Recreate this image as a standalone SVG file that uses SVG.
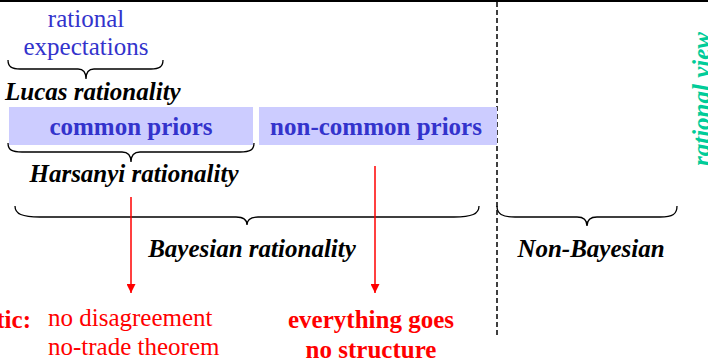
<svg xmlns="http://www.w3.org/2000/svg" width="708" height="364" viewBox="0 0 708 364">
<style>
text{font-family:"Liberation Serif","Times New Roman",serif;font-size:25px}
.bi{font-weight:bold;font-style:italic;fill:#000}
.blue{fill:#3333cc}
.bb{fill:#3333cc;font-weight:bold}
.red{fill:#ff0000}
.rb{fill:#ff0000;font-weight:bold}
.brace{fill:none;stroke:#000;stroke-width:1.3}
.box{fill:#ccccff}
.arr{stroke:#ff0000;stroke-width:1.5;fill:none}
</style>
<defs>
<marker id="ah" markerWidth="10" markerHeight="9" refX="9" refY="4.5" orient="auto" markerUnits="userSpaceOnUse">
<path d="M0,0 L9,4.5 L0,9 Z" fill="#ff0000"/>
</marker>
</defs>
<line x1="0" y1="1" x2="708" y2="1" stroke="#000" stroke-width="2"/>
<line x1="497" y1="2" x2="497" y2="335" stroke="#000" stroke-width="1.5" stroke-dasharray="5,3"/>
<g id="rational-view"><text class="bi" style="fill:#00cc99" transform="translate(710,99) rotate(-90)" text-anchor="middle">rational view</text></g>
<g id="rational-expectations">
<text class="blue" x="86" y="27" text-anchor="middle">rational</text>
<text class="blue" x="86" y="55" text-anchor="middle">expectations</text>
<path class="brace" d="M8,60 C8,67 12,69 20,69 L78,69 C83,69 86,72 86,79 C86,72 89,69 94,69 L151,69 C159,69 163,67 163,60"/>
</g>
<g id="lucas"><text class="bi" x="5" y="100">Lucas rationality</text></g>
<g id="common-priors">
<rect class="box" x="9" y="107" width="244" height="38"/>
<text class="bb" x="131" y="135" text-anchor="middle">common priors</text>
</g>
<g id="non-common-priors">
<rect class="box" x="259" y="107" width="238" height="38"/>
<text class="bb" x="376" y="135" text-anchor="middle">non-common priors</text>
</g>
<g id="harsanyi">
<path class="brace" d="M8,143 C8,150 12,152 22,152 L122,152 C128,152 131,155 131,162 C131,155 134,152 140,152 L240,152 C250,152 254,150 254,143"/>
<text class="bi" x="134" y="182" text-anchor="middle">Harsanyi rationality</text>
</g>
<g id="bayesian">
<path class="brace" d="M15,206 C15,214 22,217 40,217 L236,217 C243,217 247,219 247,225 C247,219 251,217 258,217 L454,217 C472,217 479,214 479,206"/>
<text class="bi" x="252" y="257" text-anchor="middle">Bayesian rationality</text>
</g>
<g id="non-bayesian">
<path class="brace" d="M497,206 C497,214 502,217 515,217 L577,217 C583,217 587,219 587,226 C587,219 591,217 597,217 L660,217 C673,217 677,214 677,206"/>
<text class="bi" x="591" y="257" text-anchor="middle">Non-Bayesian</text>
</g>
<g id="connectors">
<line class="arr" x1="131" y1="197" x2="131" y2="293" marker-end="url(#ah)"/>
<line class="arr" x1="375" y1="166" x2="375" y2="293" marker-end="url(#ah)"/>
</g>
<g id="pessimistic"><text class="rb" x="31" y="328" text-anchor="end">tic:</text></g>
<g id="no-disagreement">
<text class="red" x="48" y="326">no disagreement</text>
<text class="red" x="48" y="355">no-trade theorem</text>
</g>
<g id="everything-goes">
<text class="rb" x="371" y="328" text-anchor="middle">everything goes</text>
<text class="rb" x="371" y="358" text-anchor="middle">no structure</text>
</g>
</svg>
